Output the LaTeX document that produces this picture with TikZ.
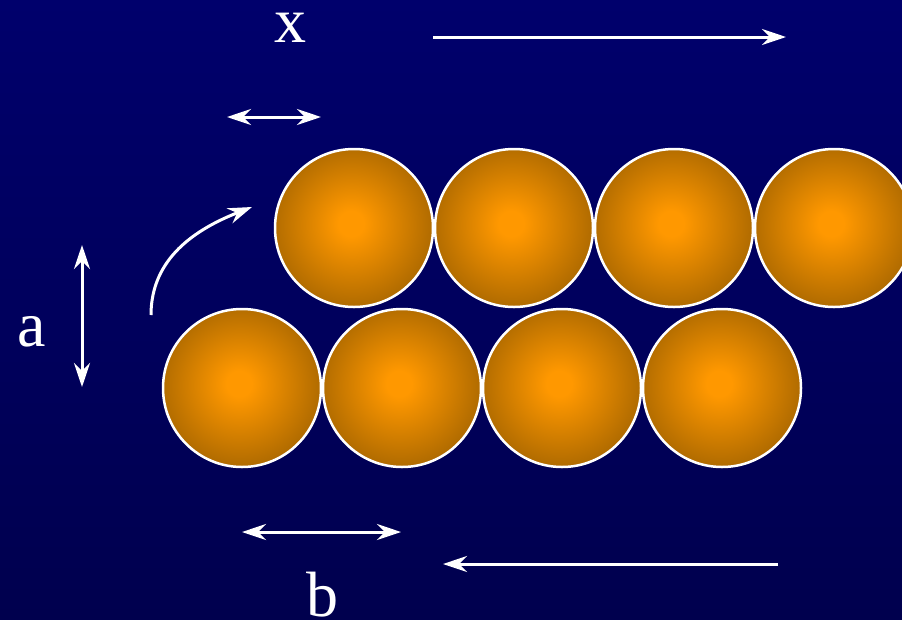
\documentclass[tikz,border=0pt]{standalone}
\usepackage{fontspec}
\setmainfont{Liberation Serif}
\usetikzlibrary{arrows.meta}

\definecolor{bgtop}{RGB}{0,0,108}
\definecolor{bgbottom}{RGB}{0,0,78}
\definecolor{ballcore}{RGB}{255,152,0}
\definecolor{ballrim}{RGB}{178,108,0}
\pgfdeclareradialshading{ballglow}{\pgfpoint{-1bp}{1.5bp}}{%
    color(0bp)=(ballcore); color(4bp)=(ballcore);
    color(25bp)=(ballrim); color(50bp)=(ballrim)}

\begin{document}
\begin{tikzpicture}[
    x=1pt, y=-1pt,
    ball/.style={circle, minimum size=158pt, inner sep=0pt, draw=white,
        line width=2.5pt, shading=ballglow},
    move/.style={white, line width=3pt, -{Stealth[length=24pt, width=16pt, inset=8pt]}},
    span/.style={white, line width=3pt, {Stealth[length=24pt, width=16pt, inset=8pt]}-{Stealth[length=24pt, width=16pt, inset=8pt]}},
    label/.style={font=\fontsize{64}{70}\selectfont, text=white, inner sep=0pt, anchor=base}
]
\useasboundingbox (0,0) rectangle (902,619);
\shade[top color=bgtop, bottom color=bgbottom] (0,0) rectangle (902,619);

% Upper and lower rows of balls
\foreach \i in {1,...,4} {
    \node[ball] (top\i) at ({354+160*(\i-1)},228) {};
    \node[ball] (low\i) at ({242+160*(\i-1)},388) {};
}

% Direction of motion
\draw[move] (433,37) -- (786,37);
\draw[move] (778,564) -- (443,564);

% Spacings
\draw[span] (227,117) -- (321,117);
\draw[span] (242,532) -- (401,532);
\draw[span] (82,245) -- (82,387);

% Hop to the upper row
\draw[move] (151,315) .. controls (151,258) and (196,229) .. (252,207);

% Labels
\node[label] (lblx) at (290,42) {x};
\node[label] (lbla) at (32,346) {a};
\node[label] (lblb) at (322,616) {b};
\end{tikzpicture}
\end{document}
